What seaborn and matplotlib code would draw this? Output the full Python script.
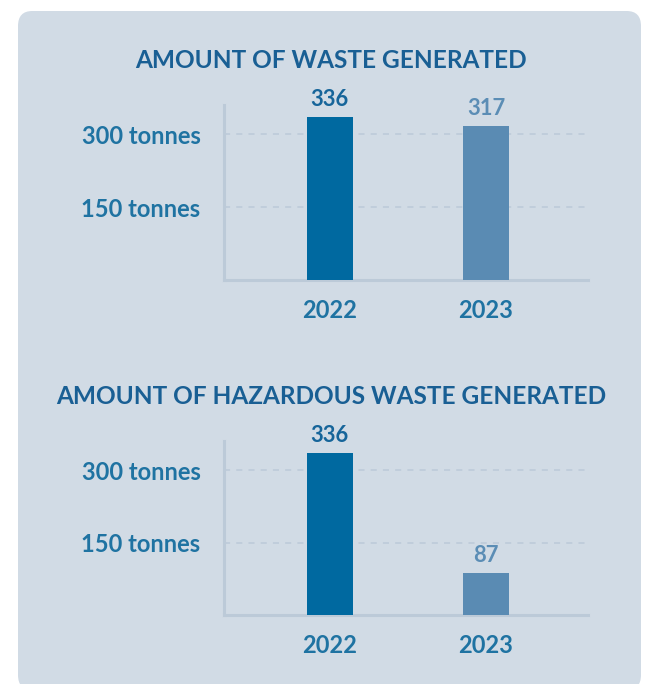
import matplotlib
matplotlib.use("Agg")
import matplotlib.pyplot as plt
from matplotlib.patches import FancyBboxPatch
import pandas as pd
import seaborn as sns

# chart data
years = ["2022", "2023"]
waste_total = [336, 317]
waste_hazardous = [336, 87]
tick_values = [150, 300]
tick_labels = ["150 tonnes", "300 tonnes"]
titles = ["AMOUNT OF WASTE GENERATED", "AMOUNT OF HAZARDOUS WASTE GENERATED"]

bar_colors = ["#0069a0", "#5a8bb3"]
label_colors = ["#16659a", "#5b8db5"]
panel_color = "#d1dbe5"
axis_color = "#bccad8"
title_color = "#195f94"
tick_color = "#1f73a2"

sns.set_theme(style="white")
plt.rcParams["font.family"] = ["Lato", "DejaVu Sans"]

fig = plt.figure(figsize=(6.52, 6.84), dpi=100)
fig.patch.set_facecolor("white")

W, H = 652, 684
panel = FancyBboxPatch((18 / W, (H - 690) / H), 623 / W, 679 / H,
                       boxstyle="round,pad=0,rounding_size=0.022",
                       transform=fig.transFigure, facecolor=panel_color,
                       edgecolor="none", zorder=-5)
fig.patches.append(panel)


def draw_chart(rect, values, title, title_y):
    ax = fig.add_axes(rect)
    ax.set_facecolor("none")
    df = pd.DataFrame({"year": years, "tonnes": values})
    sns.barplot(data=df, x="year", y="tonnes", hue="year", palette=bar_colors,
                width=0.294, legend=False, ax=ax, zorder=3, saturation=1,
                linewidth=0)
    ax.set_xlim(-0.676, 1.653)
    ax.set_ylim(0, 360)
    ax.set_yticks(tick_values)
    ax.set_yticklabels(tick_labels)
    ax.set_xlabel("")
    ax.set_ylabel("")
    for v in tick_values:
        ax.axhline(v, color="#bccad8", lw=1.1, ls=(0, (4, 4)), zorder=1)
    for s in ["top", "right"]:
        ax.spines[s].set_visible(False)
    for s in ["left", "bottom"]:
        ax.spines[s].set_color(axis_color)
        ax.spines[s].set_linewidth(2.2)
    ax.tick_params(axis="y", length=0, pad=17, labelsize=17, labelcolor=tick_color)
    ax.tick_params(axis="x", length=0, pad=14, labelsize=17, labelcolor=tick_color)
    for lab in ax.get_yticklabels():
        lab.set_fontweight("bold")
    for lab in ax.get_xticklabels():
        lab.set_fontweight("bold")
    for i, v in enumerate(values):
        ax.annotate(str(v), (i, v), xytext=(0, 5), textcoords="offset points",
                    ha="center", va="bottom", fontsize=15.8, fontweight="bold",
                    color=label_colors[i])
    fig.text(331 / W, 1 - title_y / H, title, ha="center", va="center",
             fontsize=17.6, fontweight="bold", color=title_color)
    return ax


draw_chart([224 / W, (H - 280) / H, 364 / W, 175 / H], waste_total, titles[0], 60)
draw_chart([224 / W, (H - 615) / H, 364 / W, 174 / H], waste_hazardous, titles[1], 396)

fig.savefig("out.png", dpi=100, facecolor="white")
